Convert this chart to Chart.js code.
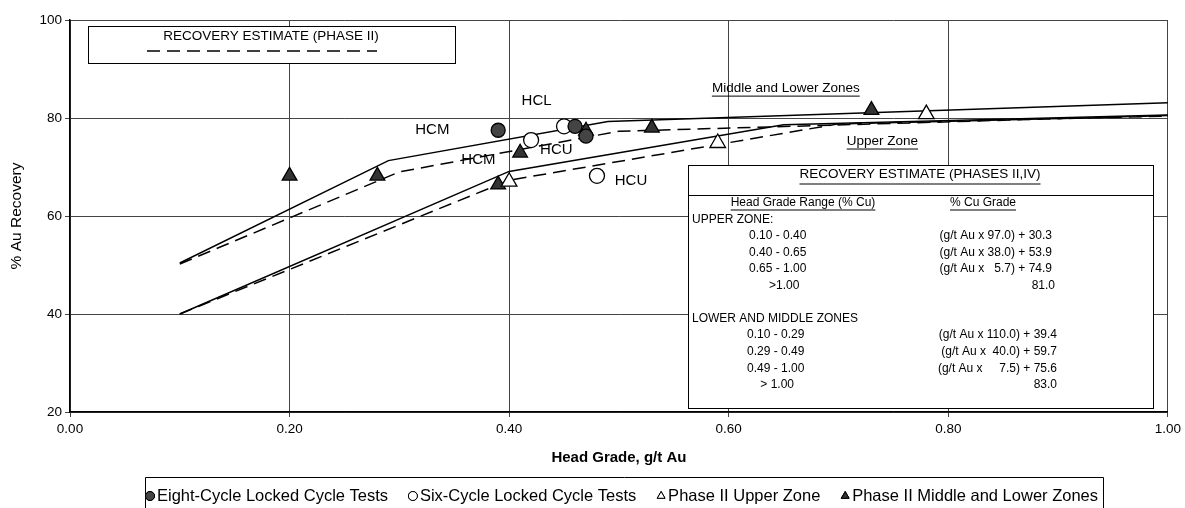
<!DOCTYPE html>
<html>
<head>
<meta charset="utf-8">
<script src="https://cdn.jsdelivr.net/npm/chart.js@4.4.0/dist/chart.umd.min.js"></script>
<style>
	html, body { margin: 0; padding: 0; background: #fff; }
</style>
</head>
<body>
<canvas id="graficoRecuperacao" width="1185" height="508"></canvas>
<script>
// eixos
var xTicks = [0, 0.2, 0.4, 0.6, 0.8, 1.0];
var yTicks = [20, 40, 60, 80, 100];

// curvas de estimativa (fases II e IV) - linhas cheias
var estMidLowX = [0.10, 0.29, 0.49, 1.00];
var estMidLowY = [50.4, 71.3, 79.3, 83.1];
var estUpperX = [0.10, 0.40, 0.65, 1.00];
var estUpperY = [40.0, 69.1, 78.6, 80.6];

// estimativa fase II - tracejadas
var ph2MidLowX = [0.10, 0.30, 0.50, 1.00];
var ph2MidLowY = [50.2, 69.0, 77.3, 80.5];
var ph2UpperX = [0.10, 0.40, 0.70, 1.00];
var ph2UpperY = [40.0, 67.3, 78.8, 80.4];

// ensaios
var eightCycleX = [0.39, 0.46, 0.47];
var eightCycleY = [77.5, 78.3, 76.3];
var sixCycleX = [0.42, 0.45, 0.48];
var sixCycleY = [75.5, 78.3, 68.2];
var upperZoneX = [0.40, 0.59, 0.78];
var upperZoneY = [67.0, 74.9, 80.8];
var midLowX = [0.20, 0.28, 0.39, 0.41, 0.47, 0.53, 0.73];
var midLowY = [68.2, 68.2, 66.4, 72.9, 77.4, 78.0, 81.6];

// rotulos no grafico (coordenadas em valores dos eixos)
var rotulos = [
	{ texto: 'HCM', x: 0.330, y: 77.6 },
	{ texto: 'HCL', x: 0.425, y: 83.5 },
	{ texto: 'HCM', x: 0.372, y: 71.4 },
	{ texto: 'HCU', x: 0.443, y: 73.5 },
	{ texto: 'HCU', x: 0.511, y: 67.1 }
];
var rotulosZona = [
	{ texto: 'Middle and Lower Zones', x: 0.652, y: 86.1 },
	{ texto: 'Upper Zone', x: 0.740, y: 75.3 }
];

var tabelaSuperior = [
	['0.10 - 0.40', '(g/t Au x 97.0) + 30.3'],
	['0.40 - 0.65', '(g/t Au x 38.0) + 53.9'],
	['0.65 - 1.00', '(g/t Au x   5.7) + 74.9'],
	['      >1.00', '81.0']
];
var tabelaInferior = [
	['0.10 - 0.29', '(g/t Au x 110.0) + 39.4'],
	['0.29 - 0.49', '(g/t Au x  40.0) + 59.7'],
	['0.49 - 1.00', '(g/t Au x     7.5) + 75.6'],
	['    > 1.00', '83.0']
];

function pares(xs, ys) {
	return xs.map(function(x, i) { return { x: x, y: ys[i] }; });
}

var FONTE = 'Arial, "Liberation Sans", sans-serif';
Chart.defaults.font.family = FONTE;
Chart.defaults.color = '#000';

var pontos = [
	{ label: 'Eight-Cycle Locked Cycle Tests', data: pares(eightCycleX, eightCycleY),
		pointStyle: 'circle', pointRadius: 7, backgroundColor: '#444', borderColor: '#000' },
	{ label: 'Six-Cycle Locked Cycle Tests', data: pares(sixCycleX, sixCycleY),
		pointStyle: 'circle', pointRadius: 7.5, backgroundColor: '#fff', borderColor: '#000' },
	{ label: 'Phase II Upper Zone', data: pares(upperZoneX, upperZoneY),
		pointStyle: 'triangle', pointRadius: 9, backgroundColor: '#fff', borderColor: '#000' },
	{ label: 'Phase II Middle and Lower Zones', data: pares(midLowX, midLowY),
		pointStyle: 'triangle', pointRadius: 8.5, backgroundColor: '#333', borderColor: '#000' }
];
pontos.forEach(function(d) {
	d.showLine = false;
	d.pointBorderWidth = 1.3;
	d.pointHoverRadius = d.pointRadius;
	d.order = 1;
});

function linha(xs, ys, tracejada) {
	return {
		data: pares(xs, ys),
		showLine: true,
		borderColor: '#000',
		borderWidth: 1.5,
		borderDash: tracejada ? [13, 7] : [],
		pointRadius: 0,
		fill: false,
		tension: 0,
		order: 2
	};
}

function sublinhar(ctx, texto, x, y, align, desvio) {
	var w = ctx.measureText(texto).width;
	var x0 = align === 'center' ? x - w / 2 : (align === 'right' ? x - w : x);
	ctx.beginPath();
	ctx.moveTo(x0, y + desvio);
	ctx.lineTo(x0 + w, y + desvio);
	ctx.stroke();
}

var anotacoes = {
	id: 'anotacoes',
	afterDraw: function(chart) {
		var ctx = chart.ctx;
		var sx = chart.scales.x, sy = chart.scales.y;
		ctx.save();
		ctx.fillStyle = '#000';
		ctx.strokeStyle = '#000';
		ctx.textBaseline = 'middle';

		// rotulos dos ensaios
		ctx.font = '15px ' + FONTE;
		ctx.textAlign = 'center';
		rotulos.forEach(function(r) {
			ctx.fillText(r.texto, sx.getPixelForValue(r.x), sy.getPixelForValue(r.y));
		});
		ctx.font = '13.5px ' + FONTE;
		ctx.lineWidth = 1;
		rotulosZona.forEach(function(r) {
			var px = sx.getPixelForValue(r.x), py = sy.getPixelForValue(r.y);
			ctx.fillText(r.texto, px, py);
			sublinhar(ctx, r.texto, px, py, 'center', 8);
		});

		// caixa fase II
		ctx.fillStyle = '#fff';
		ctx.fillRect(88, 26, 367, 37);
		ctx.lineWidth = 1;
		ctx.strokeRect(88.5, 26.5, 367, 37);
		ctx.fillStyle = '#000';
		ctx.font = '13.5px ' + FONTE;
		ctx.fillText('RECOVERY ESTIMATE (PHASE II)', 271, 36);
		ctx.lineWidth = 1.5;
		ctx.setLineDash([13, 7]);
		ctx.beginPath();
		ctx.moveTo(147, 51);
		ctx.lineTo(377, 51);
		ctx.stroke();
		ctx.setLineDash([]);

		// tabela fases II, IV
		ctx.fillStyle = '#fff';
		ctx.fillRect(688, 165, 465, 243);
		ctx.lineWidth = 1;
		ctx.strokeRect(688.5, 165.5, 465, 243);
		ctx.beginPath();
		ctx.moveTo(688, 195.5);
		ctx.lineTo(1153, 195.5);
		ctx.stroke();
		ctx.fillStyle = '#000';
		ctx.font = '13.5px ' + FONTE;
		ctx.textAlign = 'center';
		ctx.fillText('RECOVERY ESTIMATE (PHASES II,IV)', 920, 174);
		sublinhar(ctx, 'RECOVERY ESTIMATE (PHASES II,IV)', 920, 174, 'center', 10);
		ctx.font = '12px ' + FONTE;
		ctx.fillText('Head Grade Range (% Cu)', 803, 203);
		sublinhar(ctx, 'Head Grade Range (% Cu)', 803, 203, 'center', 7);
		ctx.fillText('% Cu Grade', 983, 203);
		sublinhar(ctx, '% Cu Grade', 983, 203, 'center', 7);

		ctx.textAlign = 'left';
		ctx.fillText('UPPER ZONE:', 692, 220);
		ctx.fillText('LOWER AND MIDDLE ZONES', 692, 319);
		tabelaSuperior.forEach(function(l, i) {
			var y = 236 + i * 16.5;
			ctx.textAlign = 'left';
			ctx.fillText(l[0], 749, y);
			ctx.textAlign = 'right';
			ctx.fillText(l[1], i === 3 ? 1055 : 1052, y);
		});
		tabelaInferior.forEach(function(l, i) {
			var y = 335 + i * 16.7;
			ctx.textAlign = 'left';
			ctx.fillText(l[0], 747, y);
			ctx.textAlign = 'right';
			ctx.fillText(l[1], 1057, y);
		});

		// titulos dos eixos
		ctx.textAlign = 'center';
		ctx.font = 'bold 15px ' + FONTE;
		ctx.fillText('Head Grade, g/t Au', (chart.chartArea.left + chart.chartArea.right) / 2, 458);
		ctx.save();
		ctx.translate(17, 216);
		ctx.rotate(-Math.PI / 2);
		ctx.font = '15.5px ' + FONTE;
		ctx.fillText('% Au Recovery', 0, 0);
		ctx.restore();

		// legenda inferior
		ctx.lineWidth = 1;
		ctx.beginPath();
		ctx.moveTo(145.5, 508);
		ctx.lineTo(145.5, 477.5);
		ctx.lineTo(1103.5, 477.5);
		ctx.lineTo(1103.5, 508);
		ctx.stroke();
		ctx.font = '16.5px ' + FONTE;
		ctx.textAlign = 'left';
		var somaTextos = 0;
		pontos.forEach(function(d) { somaTextos += ctx.measureText(d.label).width; });
		var espaco = Math.max(6, (1099 - 150 - somaTextos - pontos.length * 8) / (pontos.length - 1));
		var lx = 150, ly = 496;
		pontos.forEach(function(d) {
			Chart.helpers.drawPoint(ctx, {
				pointStyle: d.pointStyle,
				radius: 4.5,
				borderWidth: 1,
				rotation: 0
			}, lx, ly);
			ctx.fillStyle = d.backgroundColor;
			ctx.strokeStyle = '#000';
			ctx.fill();
			ctx.stroke();
			ctx.fillStyle = '#000';
			ctx.fillText(d.label, lx + 7, ly);
			lx += 8 + ctx.measureText(d.label).width + espaco;
		});
		ctx.restore();
	}
};

var grafico = new Chart(document.getElementById('graficoRecuperacao').getContext('2d'), {
	type: 'scatter',
	data: {
		datasets: pontos.concat([
			linha(estMidLowX, estMidLowY, false),
			linha(estUpperX, estUpperY, false),
			linha(ph2MidLowX, ph2MidLowY, true),
			linha(ph2UpperX, ph2UpperY, true)
		])
	},
	options: {
		responsive: false,
		animation: false,
		devicePixelRatio: 1,
		layout: { padding: { left: 0, right: 17, top: 20, bottom: 66 } },
		plugins: {
			legend: { display: false },
			tooltip: { enabled: false }
		},
		scales: {
			x: {
				type: 'linear',
				min: 0,
				max: 1,
				afterBuildTicks: function(scale) {
					scale.ticks = xTicks.map(function(v) { return { value: v }; });
				},
				afterFit: function(scale) { scale.height = 30; },
				ticks: {
					font: { size: 13.5 },
					padding: 4,
					maxRotation: 0,
					callback: function(v) { return v.toFixed(2); }
				},
				grid: { color: '#444', lineWidth: 1, tickLength: 5 },
				border: { color: '#000', width: 1.5 }
			},
			y: {
				type: 'linear',
				min: 20,
				max: 100,
				afterBuildTicks: function(scale) {
					scale.ticks = yTicks.map(function(v) { return { value: v }; });
				},
				afterFit: function(scale) { scale.width = 70; },
				ticks: { font: { size: 13.5 }, padding: 3 },
				grid: { color: '#444', lineWidth: 1, tickLength: 5 },
				border: { color: '#000', width: 1.5 }
			}
		}
	},
	plugins: [anotacoes]
});
</script>
</body>
</html>
